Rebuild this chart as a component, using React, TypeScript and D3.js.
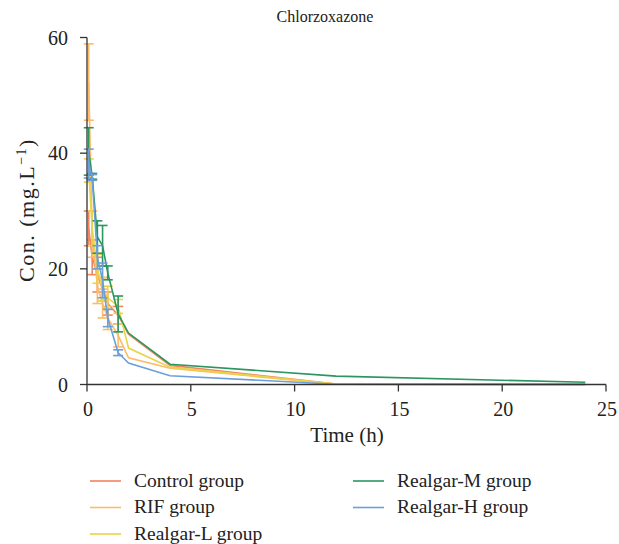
import React from "react";
import * as d3 from "d3";

const times = [0.083, 0.25, 0.5, 0.75, 1, 1.5, 2, 4, 12, 24];
const seriesNames = ["Control group", "RIF group", "Realgar-L group", "Realgar-M group", "Realgar-H group"];
const seriesColors = ["#F2845E", "#FDBB6A", "#E8D448", "#2B9660", "#6C9FD9"];

const controlMean = [27, 22, 19, 16.5, 14, 12, 8.7, 3.3, 0.1, 0.05];
const controlSd = [3, 3, 3, 2, 2, 1.5, 0, 0, 0, 0];
const rifMean = [52.3, 26, 17, 14, 11.5, 8.5, 4.6, 2.8, 0.05, 0.02];
const rifSd = [6.6, 4, 3, 2.5, 2, 2, 0, 0, 0, 0];
const realgarLMean = [37, 27, 20, 16.5, 15, 13.5, 6.3, 3.0, 0.1, 0.03];
const realgarLSd = [2, 3, 2.5, 2, 2, 1.2, 0, 0, 0, 0];
const realgarMMean = [40.3, 36, 25.5, 24, 19.3, 12.2, 8.9, 3.5, 1.45, 0.38];
const realgarMSd = [4.1, 0.5, 2.8, 3.5, 1.2, 3.1, 0, 0, 0, 0];
const realgarHMean = [38.2, 35.8, 22, 18, 11.5, 5.5, 3.7, 1.5, 0.05, 0.02];
const realgarHSd = [2.5, 0.5, 2, 3, 1.5, 0.5, 0, 0, 0, 0];

const means = [controlMean, rifMean, realgarLMean, realgarMMean, realgarHMean];
const sds = [controlSd, rifSd, realgarLSd, realgarMSd, realgarHSd];

const xTicks = [0, 5, 10, 15, 20, 25];
const yTicks = [0, 20, 40, 60];

const FONT = "'Liberation Serif', 'Times New Roman', serif";

export default function App() {
  const W = 619, H = 544;
  const x = d3.scaleLinear().domain([0, 25]).range([87, 606]);
  const y = d3.scaleLinear().domain([0, 60]).range([384.5, 37.5]);
  const line = d3.line<number>().x((_, i) => x(times[i])).y((v) => y(v));
  const axisColor = "#333";
  const txt = { fontFamily: FONT, fill: "#222" } as const;

  return (
    <svg width={W} height={H} style={{ position: "absolute", left: 0, top: 0 }}>
      <rect width={W} height={H} fill="#fff" />
      <text x={325} y={22} textAnchor="middle" fontSize={16} style={txt}>Chlorzoxazone</text>

      {means.map((m, si) => (
        <g key={si}>
          <path d={line(m) || ""} fill="none" stroke={seriesColors[si]} strokeWidth={1.6} />
          {m.map((v, i) =>
            sds[si][i] > 0 ? (
              <g key={i} stroke={seriesColors[si]} strokeWidth={1.6}>
                <line x1={x(times[i])} x2={x(times[i])} y1={y(v + sds[si][i])} y2={y(v - sds[si][i])} />
                <line x1={x(times[i]) - 5} x2={x(times[i]) + 5} y1={y(v + sds[si][i])} y2={y(v + sds[si][i])} />
                <line x1={x(times[i]) - 5} x2={x(times[i]) + 5} y1={y(v - sds[si][i])} y2={y(v - sds[si][i])} />
              </g>
            ) : null
          )}
        </g>
      ))}

      <line x1={x(0)} x2={x(0)} y1={y(60)} y2={y(0)} stroke={axisColor} strokeWidth={1.3} />
      <line x1={x(0)} x2={x(25)} y1={y(0)} y2={y(0)} stroke={axisColor} strokeWidth={1.3} />
      {yTicks.map((t) => (
        <g key={t}>
          <line x1={x(0) - 7} x2={x(0)} y1={y(t)} y2={y(t)} stroke={axisColor} strokeWidth={1.3} />
          <text x={x(0) - 19} y={y(t)} dy="0.35em" textAnchor="end" fontSize={20} style={txt}>{t}</text>
        </g>
      ))}
      {xTicks.map((t) => (
        <g key={t}>
          <line x1={x(t)} x2={x(t)} y1={y(0)} y2={y(0) + 7} stroke={axisColor} strokeWidth={1.3} />
          <text x={x(t) + 1} y={y(0) + 31} textAnchor="middle" fontSize={20} style={txt}>{t}</text>
        </g>
      ))}
      <text x={347} y={442} textAnchor="middle" fontSize={21} style={txt}>Time (h)</text>
      <text transform="translate(34,210) rotate(-90)" textAnchor="middle" fontSize={22} letterSpacing={1.5} style={txt}>
        Con. (mg.L<tspan dy={-8} fontSize={14}>−1</tspan><tspan dy={8}>)</tspan>
      </text>

      {seriesNames.map((n, i) => {
        const col = i < 3 ? 0 : 1;
        const row = i < 3 ? i : i - 3;
        const lx = col === 0 ? 90 : 353;
        const ly = 481 + row * 26.5;
        return (
          <g key={n}>
            <line x1={lx} x2={lx + 31} y1={ly} y2={ly} stroke={seriesColors[i]} strokeWidth={1.6} />
            <text x={lx + 44} y={ly} dy="0.3em" fontSize={19.5} style={txt}>{n}</text>
          </g>
        );
      })}
    </svg>
  );
}
